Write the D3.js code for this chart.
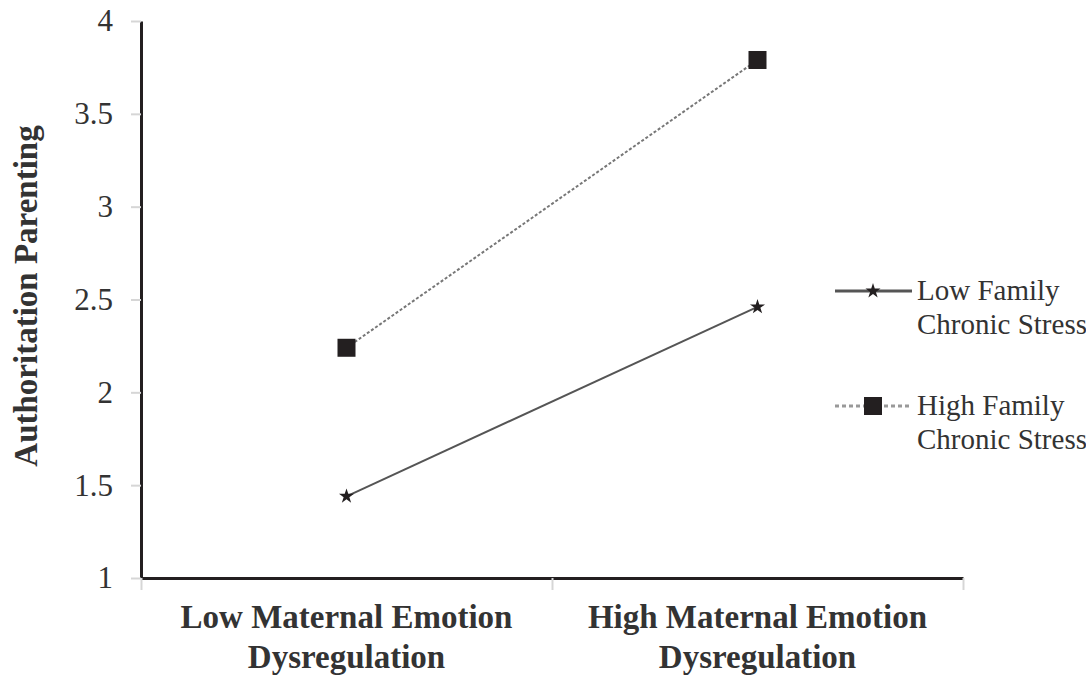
<!DOCTYPE html>
<html>
<head>
<meta charset="utf-8">
<script src="https://cdn.jsdelivr.net/npm/d3@7"></script>
<style>
  body { margin: 0; background: #fff; }
  text { font-family: "Liberation Serif", "Times New Roman", serif; fill: #333; }
</style>
</head>
<body>
<div id="chart"></div>
<script>
// data
const categories = [["Low Maternal Emotion", "Dysregulation"], ["High Maternal Emotion", "Dysregulation"]];
const lowStress = [1.44, 2.46];
const highStress = [2.24, 3.79];
const seriesNames = [["Low Family", "Chronic Stress"], ["High Family", "Chronic Stress"]];
const yTicks = [1, 1.5, 2, 2.5, 3, 3.5, 4];

const width = 1086, height = 675;
const plotLeft = 141, plotRight = 963, plotTop = 21, plotBottom = 578;

const svg = d3.select('#chart').append('svg')
    .attr('width', width).attr('height', height);

const x = d3.scaleBand().domain(d3.range(categories.length)).range([plotLeft, plotRight]);
const xEdges = d3.scaleLinear().domain([0, categories.length]).range([plotLeft, plotRight]);
const y = d3.scaleLinear().domain([1, 4]).range([plotBottom, plotTop]);

// y axis
let yAxis = svg.append('g').attr('transform', 'translate(' + plotLeft + ',0)')
    .call(d3.axisLeft(y).tickValues(yTicks).tickSize(10).tickPadding(18).tickSizeOuter(0).tickFormat(d => String(d)));
yAxis.select('.domain').attr('stroke', '#231f20').attr('stroke-width', 3);
yAxis.selectAll('.tick line').attr('stroke', '#d6d6d6').attr('stroke-width', 2);
yAxis.selectAll('.tick text').attr('font-size', 31).attr('fill', '#444')
    .style('font-family', '"Liberation Serif", serif');

// x axis, ticks at category edges
let xAxis = svg.append('g').attr('transform', 'translate(0,' + plotBottom + ')')
    .call(d3.axisBottom(xEdges).tickValues(d3.range(categories.length + 1)).tickSize(12).tickSizeOuter(0).tickFormat(''));
xAxis.select('.domain').attr('stroke', '#231f20').attr('stroke-width', 3);
xAxis.selectAll('.tick line').attr('stroke', '#d6d6d6').attr('stroke-width', 2);

// category labels
categories.forEach(function(lines, i) {
    lines.forEach(function(t, j) {
        svg.append('text')
            .attr('x', x(i) + x.bandwidth() / 2)
            .attr('y', 628 + j * 40)
            .attr('text-anchor', 'middle')
            .attr('font-size', 33).attr('font-weight', 'bold')
            .text(t);
    });
});

// y title
svg.append('text')
    .attr('transform', 'translate(37,296) rotate(-90)')
    .attr('text-anchor', 'middle')
    .attr('font-size', 33).attr('font-weight', 'bold')
    .text('Authoritation Parenting');

const line = d3.line().x((d, i) => x(i) + x.bandwidth() / 2).y(d => y(d));

svg.append('path').datum(lowStress).attr('d', line)
    .attr('fill', 'none').attr('stroke', '#555').attr('stroke-width', 2);
svg.append('path').datum(highStress).attr('d', line)
    .attr('fill', 'none').attr('stroke', '#777').attr('stroke-width', 2).attr('stroke-dasharray', '3,2');

const marker = d3.symbol().type(d3.symbolStar).size(70);

svg.selectAll('.lowPt').data(lowStress).enter().append('path')
    .attr('class', 'lowPt')
    .attr('d', marker)
    .attr('transform', (d, i) => 'translate(' + (x(i) + x.bandwidth() / 2) + ',' + y(d) + ')')
    .attr('fill', '#231f20');

svg.selectAll('.highPt').data(highStress).enter().append('rect')
    .attr('class', 'highPt')
    .attr('x', (d, i) => x(i) + x.bandwidth() / 2 - 9)
    .attr('y', d => y(d) - 9)
    .attr('width', 18).attr('height', 18)
    .attr('fill', '#231f20');

// legend
const legend = svg.append('g');
const legY = [291, 406];
legend.append('line').attr('x1', 835).attr('x2', 912).attr('y1', legY[0]).attr('y2', legY[0])
    .attr('stroke', '#555').attr('stroke-width', 3);
legend.append('path').attr('d', marker).attr('transform', 'translate(873,' + legY[0] + ')').attr('fill', '#231f20');
legend.append('line').attr('x1', 835).attr('x2', 912).attr('y1', legY[1]).attr('y2', legY[1])
    .attr('stroke', '#999').attr('stroke-width', 3).attr('stroke-dasharray', '4,3');
legend.append('rect').attr('x', 864).attr('y', legY[1] - 9).attr('width', 18).attr('height', 18).attr('fill', '#231f20');

seriesNames.forEach(function(lines, i) {
    lines.forEach(function(t, j) {
        legend.append('text')
            .attr('x', 917)
            .attr('y', legY[i] + 9 + j * 34)
            .attr('font-size', 29)
            .attr('fill', '#444')
            .text(t);
    });
});
</script>
</body>
</html>
